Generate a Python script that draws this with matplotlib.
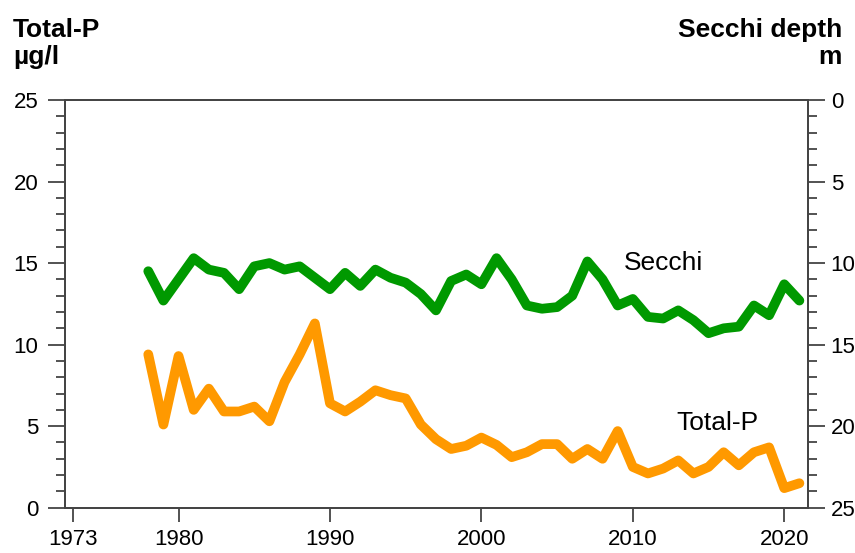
#!/usr/bin/env python3
"""
Total-P and Secchi depth time series, 1978-2021.

Left axis: total phosphorus (ug/l), right axis: Secchi depth (m, inverted).
Saves the chart as out.png.
"""

import matplotlib
matplotlib.use("Agg")
import matplotlib.pyplot as plt
from matplotlib.ticker import MultipleLocator

# Data
years = list(range(1978, 2022))

total_p = [9.4, 5.1, 9.3, 6.0, 7.3, 5.9, 5.9, 6.2, 5.3, 7.7,
           9.4, 11.3, 6.4, 5.9, 6.5, 7.2, 6.9, 6.7, 5.1, 4.2,
           3.6, 3.8, 4.3, 3.85, 3.1, 3.4, 3.9, 3.9, 3.0, 3.6,
           3.0, 4.7, 2.5, 2.1, 2.4, 2.9, 2.1, 2.5, 3.4, 2.6,
           3.4, 3.7, 1.2, 1.5]

secchi = [10.5, 12.3, 11.0, 9.7, 10.4, 10.6, 11.6, 10.2, 10.0, 10.4,
          10.2, 10.9, 11.6, 10.6, 11.4, 10.4, 10.9, 11.2, 11.9, 12.9,
          11.1, 10.7, 11.3, 9.7, 11.0, 12.6, 12.8, 12.7, 12.0, 9.9,
          11.0, 12.6, 12.2, 13.3, 13.4, 12.9, 13.5, 14.3, 14.0, 13.9,
          12.6, 13.2, 11.3, 12.3]

x_ticks = [1973, 1980, 1990, 2000, 2010, 2020]

# Styling
GREEN = "#009900"
ORANGE = "#ff9900"
AXIS_COLOR = "#444444"
FONT = ["Liberation Sans", "DejaVu Sans"]
TICK_SIZE = 16
TITLE_SIZE = 19


def style_axis(ax, side):
    """Ticks and spines for one y side"""
    ax.tick_params(axis="y", which="major", direction="out", length=12.5,
                   width=1.3, color=AXIS_COLOR, labelsize=TICK_SIZE,
                   pad=6.5 if side == "left" else 4)
    ax.tick_params(axis="y", which="minor", direction="out", length=6.8,
                   width=1.3, color=AXIS_COLOR)
    for spine in ax.spines.values():
        spine.set_color(AXIS_COLOR)
        spine.set_linewidth(1.3)


def main():
    plt.rcParams["font.family"] = FONT

    fig = plt.figure(figsize=(8.55, 5.53), dpi=100)
    ax = fig.add_axes([0.076, 0.0819, 0.8687, 0.7373])

    # Total-P on the left axis
    ax.plot(years, total_p, color=ORANGE, lw=7,
            solid_joinstyle="round", solid_capstyle="round", zorder=3)
    ax.set_xlim(1972.5, 2021.55)
    ax.set_ylim(0, 25)
    ax.yaxis.set_major_locator(MultipleLocator(5))
    ax.yaxis.set_minor_locator(MultipleLocator(1))
    ax.set_xticks(x_ticks)
    ax.tick_params(axis="x", which="major", direction="out", length=10,
                   width=1.3, color=AXIS_COLOR, labelsize=TICK_SIZE, pad=5.5)
    style_axis(ax, "left")

    # Secchi depth on the right axis, inverted
    ax2 = ax.twinx()
    ax2.plot(years, secchi, color=GREEN, lw=7,
             solid_joinstyle="round", solid_capstyle="round", zorder=3)
    ax2.set_ylim(25, 0)
    ax2.yaxis.set_major_locator(MultipleLocator(5))
    ax2.yaxis.set_minor_locator(MultipleLocator(1))
    style_axis(ax2, "right")

    # Series labels inside the plot
    ax.text(2009.4, 15.0, "Secchi", fontsize=19, ha="left", va="center")
    ax.text(2012.9, 5.2, "Total-P", fontsize=19, ha="left", va="center")

    # Axis titles at the top corners
    fig.text(13 / 855, 1 - 37 / 553, "Total-P", fontsize=TITLE_SIZE,
             fontweight="bold", ha="left", va="baseline")
    fig.text(13 / 855, 1 - 64 / 553, "µg/l", fontsize=TITLE_SIZE,
             fontweight="bold", ha="left", va="baseline")
    fig.text(842 / 855, 1 - 37 / 553, "Secchi depth", fontsize=TITLE_SIZE,
             fontweight="bold", ha="right", va="baseline")
    fig.text(842 / 855, 1 - 64 / 553, "m", fontsize=TITLE_SIZE,
             fontweight="bold", ha="right", va="baseline")

    fig.savefig("out.png", dpi=100)
    plt.close(fig)


if __name__ == "__main__":
    main()
